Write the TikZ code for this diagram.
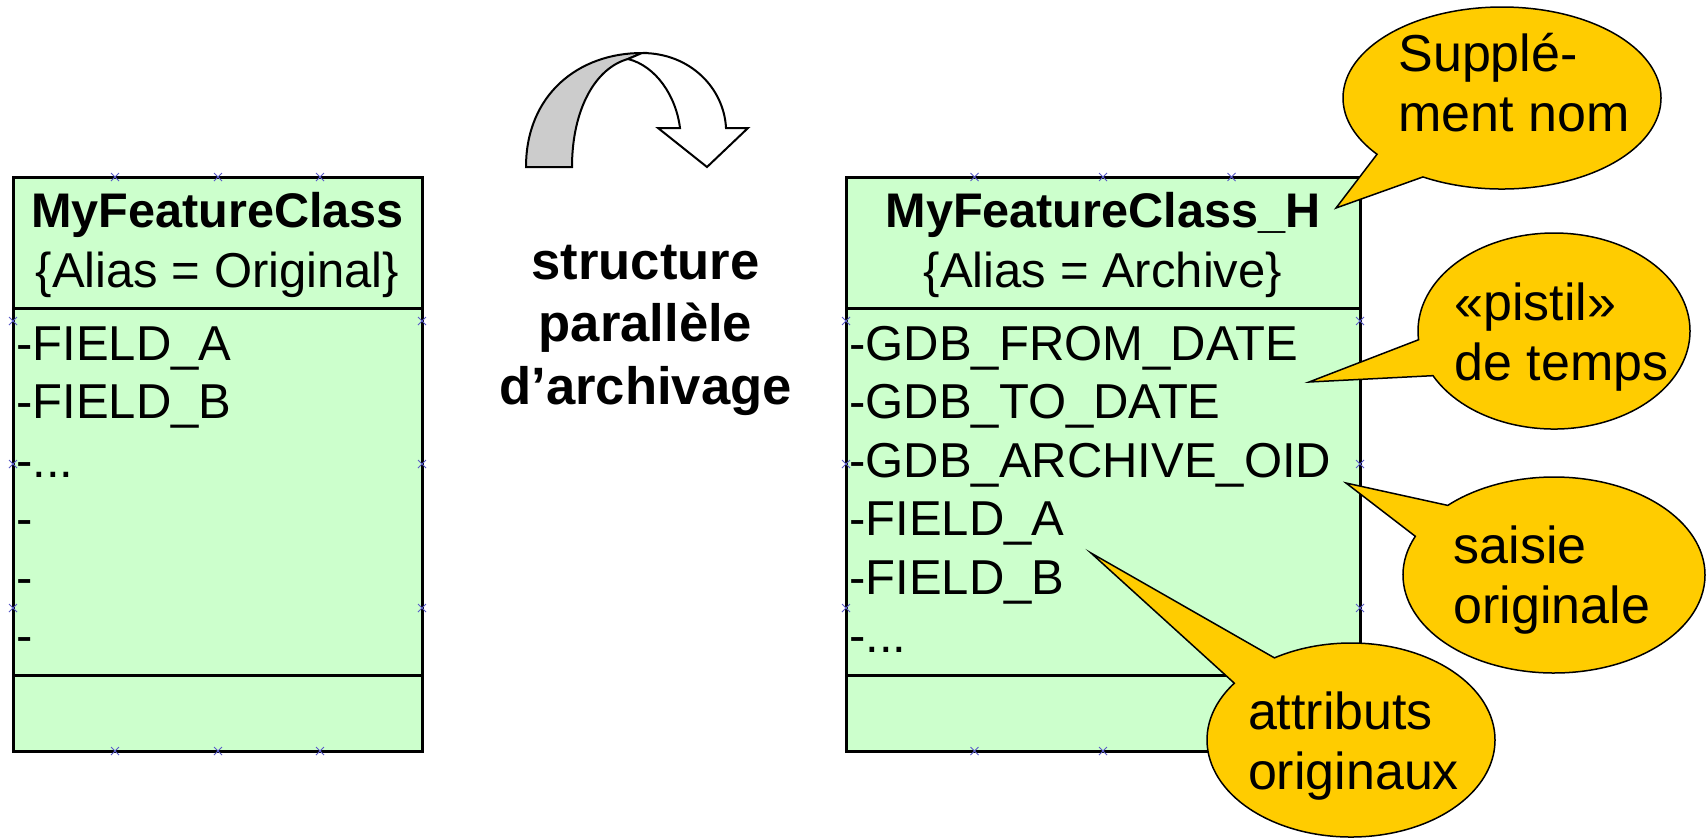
\documentclass[tikz,border=0pt]{standalone}
\usepackage{fontspec}
\setmainfont{Liberation Sans}
\usepackage[x11names]{xcolor}
\usetikzlibrary{shapes.callouts, positioning}

\definecolor{umlgreen}{HTML}{CCFFCC}
\definecolor{bubbleyellow}{HTML}{FFCC00}
\definecolor{handleblue}{RGB}{90,90,200}
\newcommand{\moreattr}{-...}

\begin{document}
\begin{tikzpicture}[x=0.5pt,y=-0.5pt,
    classbox/.style={draw=black,line width=1.5pt,fill=umlgreen},
    classline/.style={draw=black,line width=1.5pt},
    title/.style={font=\fontsize{24.3}{30}\selectfont\bfseries,anchor=base},
    alias/.style={font=\fontsize{24.5}{30}\selectfont,anchor=base},
    attr/.style={font=\fontsize{24.5}{30}\selectfont,anchor=base west,inner sep=0pt},
    handle/.style={handleblue,line width=0.5pt},
    bubble/.style={ellipse callout,draw=black,line width=0.75pt,fill=bubbleyellow,callout pointer arc=22,inner sep=0pt},
    bubbletext/.style={font=\fontsize{26}{30}\selectfont,align=left,inner sep=0pt}]
       \useasboundingbox (0,0) rectangle (1706,837);
       % original class
       \draw[classbox] (13,177) coordinate (A) rectangle (422,751) coordinate (B);
       \draw[classline] (13,308) -- (422,308) (13,675) -- (422,675);
       \node[title] (origname) at (217.5,227) {MyFeatureClass};
       \node[alias] (origalias) at (217.5,287) {\{Alias = Original\}};
       \foreach \t [count=\i] in {-FIELD\_A,-FIELD\_B,\moreattr,-,-,-}
         \node[attr] (origattr\i) at (16,{360+58.5*(\i-1)}) {\t};
       % archive class
       \draw[classbox] (846,177) coordinate (C) rectangle (1360,751) coordinate (D);
       \draw[classline] (846,308) -- (1360,308) (846,675) -- (1360,675);
       \node[title] (archname) at (1103,227) {MyFeatureClass\_H};
       \node[alias] (archalias) at (1103,287) {\{Alias = Archive\}};
       \foreach \t [count=\i] in {-GDB\_FROM\_DATE,-GDB\_TO\_DATE,-GDB\_ARCHIVE\_OID,-FIELD\_A,-FIELD\_B,\moreattr}
         \node[attr] (archattr\i) at (849,{360+58.5*(\i-1)}) {\t};
       % selection handles
       \foreach \hx/\hy in {115/177,218/177,320/177,115/751,218/751,320/751,
                            13/321,13/464,13/608,422/321,422/464,422/608,
                            974.5/177,1103/177,1231.5/177,974.5/751,1103/751,1231.5/751,
                            846/321,846/464,846/608,1360/321,1360/464,1360/608}
         \draw[handle] (\hx-4,\hy-4) -- (\hx+4,\hy+4) (\hx-4,\hy+4) -- (\hx+4,\hy-4);
       % curved arrow
       \draw[line width=1pt,fill=gray!40] (526,167) .. controls (526,95) and (578,53) .. (642,53) -- (628,59) .. controls (595,68) and (572,110) .. (572,167) -- cycle;
       \draw[line width=1pt,fill=white] (642,53) .. controls (690,53) and (724,88) .. (726,128) -- (748,128) -- (707,167) -- (658,128) -- (680,128) .. controls (676,96) and (656,66) .. (628,59) -- cycle;
       \node[font=\fontsize{26.3}{31.25}\selectfont\bfseries,align=center] (struct) at (645.5,330) {structure\\parallèle\\d’archivage};
       % callouts
       \node[bubble,minimum width=159pt,minimum height=91pt,callout absolute pointer={(1336,208)}] (suppl) at (1502,98) {};
       \node[bubbletext] (suppltext) at (1514,83) {Supplé-\\ment nom};
       \node[bubble,minimum width=136pt,minimum height=98pt,callout absolute pointer={(1309,382)}] (pistil) at (1554,331) {};
       \node[bubbletext] (pistiltext) at (1561.5,337) {«pistil»\\de temps};
       \node[bubble,minimum width=151pt,minimum height=98pt,callout absolute pointer={(1346,483)}] (saisie) at (1554,575) {};
       \node[bubbletext] (saisietext) at (1552,580) {saisie\\originale};
       \node[bubble,minimum width=144pt,minimum height=97pt,callout absolute pointer={(1091,553)}] (attrib) at (1351,740) {};
       \node[bubbletext] (attribtext) at (1353.5,746) {attributs\\originaux};
     \end{tikzpicture}
\end{document}
